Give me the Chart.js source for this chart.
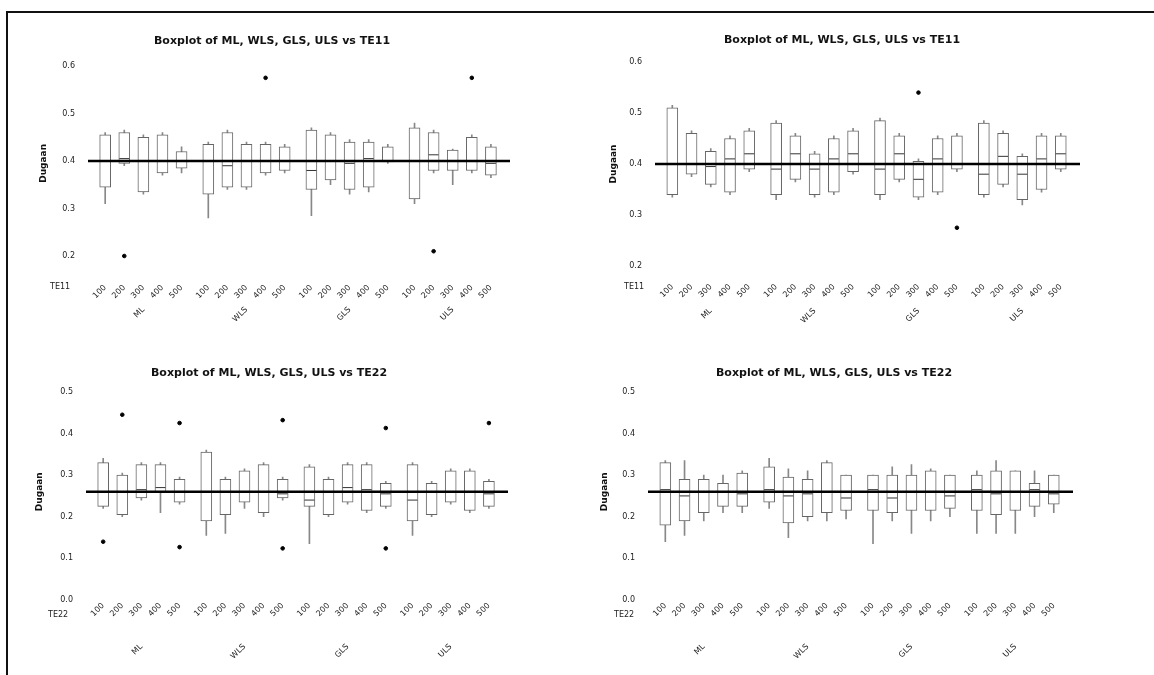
<!DOCTYPE html>
<html>
<head>
<meta charset="utf-8">
<script src="https://cdn.jsdelivr.net/npm/chart.js@4.4.0/dist/chart.umd.min.js"></script>
<style>
  html, body { margin: 0; padding: 0; background: #fff; }
  #page { position: relative; width: 1154px; height: 675px; overflow: hidden; font-family: 'DejaVu Sans', sans-serif; }
  .frame-top { position: absolute; left: 6px; top: 11px; width: 1148px; border-top: 2px solid #111; }
  .frame-left { position: absolute; left: 6px; top: 11px; height: 664px; border-left: 2px solid #111; }
  .panel { position: absolute; }
  .rowlab { position: absolute; font-size: 8px; color: #222; }
</style>
</head>
<body>
<div id="page">
  <div class="frame-top"></div>
  <div class="frame-left"></div>

  <div class="panel" style="left:10px;top:28px;width:560px;height:302px"><canvas id="c1"></canvas></div>
  <div class="panel" style="left:583px;top:28px;width:560px;height:302px"><canvas id="c2"></canvas></div>
  <div class="panel" style="left:10px;top:356px;width:560px;height:319px"><canvas id="c3"></canvas></div>
  <div class="panel" style="left:583px;top:356px;width:560px;height:319px"><canvas id="c4"></canvas></div>

  <div class="rowlab" style="left:50px;top:282px">TE11</div>
  <div class="rowlab" style="left:624px;top:282px">TE11</div>
  <div class="rowlab" style="left:48px;top:610px">TE22</div>
  <div class="rowlab" style="left:614px;top:610px">TE22</div>
</div>

<script>
// kategori: metode x ukuran sampel
const groups = ['ML', 'WLS', 'GLS', 'ULS'];
const sizes = ['100', '200', '300', '400', '500'];

// label sumbu Y
const yTicksTop = [0.2, 0.3, 0.4, 0.5, 0.6];
const yTicksBottom = [0.0, 0.1, 0.2, 0.3, 0.4, 0.5];

// nilai sebenarnya (garis referensi)
const refTop = 0.40;
const refBottom = 0.26;

// --- Panel 1 : TE11 (kiri atas) ---
const p1Low = [0.31, 0.39, 0.33, 0.37, 0.375, 0.28, 0.34, 0.34, 0.37, 0.375, 0.285, 0.35, 0.33, 0.335, 0.395, 0.31, 0.375, 0.35, 0.375, 0.365];
const p1Q1  = [0.345, 0.395, 0.335, 0.375, 0.385, 0.33, 0.345, 0.345, 0.375, 0.38, 0.34, 0.36, 0.34, 0.345, 0.398, 0.32, 0.38, 0.38, 0.38, 0.37];
const p1Med = [0.40, 0.405, 0.40, 0.40, 0.40, 0.40, 0.39, 0.40, 0.40, 0.40, 0.38, 0.40, 0.395, 0.405, 0.40, 0.40, 0.413, 0.40, 0.40, 0.395];
const p1Q3  = [0.455, 0.46, 0.45, 0.455, 0.42, 0.435, 0.46, 0.435, 0.435, 0.43, 0.465, 0.455, 0.44, 0.44, 0.43, 0.47, 0.46, 0.423, 0.45, 0.43];
const p1High = [0.46, 0.465, 0.455, 0.46, 0.43, 0.44, 0.465, 0.44, 0.44, 0.435, 0.47, 0.46, 0.445, 0.445, 0.435, 0.48, 0.465, 0.425, 0.455, 0.435];
const p1Outliers = [[1, 0.20], [8, 0.575], [16, 0.21], [18, 0.575]];

// --- Panel 2 : TE11 (kanan atas) ---
const p2Low = [0.335, 0.375, 0.355, 0.34, 0.385, 0.33, 0.365, 0.335, 0.34, 0.38, 0.33, 0.365, 0.33, 0.34, 0.385, 0.335, 0.355, 0.32, 0.345, 0.385];
const p2Q1  = [0.34, 0.38, 0.36, 0.345, 0.39, 0.34, 0.37, 0.34, 0.345, 0.385, 0.34, 0.37, 0.335, 0.345, 0.39, 0.34, 0.36, 0.33, 0.35, 0.39];
const p2Med = [0.40, 0.40, 0.395, 0.41, 0.42, 0.39, 0.42, 0.39, 0.41, 0.42, 0.39, 0.42, 0.37, 0.41, 0.40, 0.38, 0.415, 0.38, 0.41, 0.42];
const p2Q3  = [0.51, 0.46, 0.425, 0.45, 0.465, 0.48, 0.455, 0.42, 0.45, 0.465, 0.485, 0.455, 0.405, 0.45, 0.455, 0.48, 0.46, 0.415, 0.455, 0.455];
const p2High = [0.515, 0.465, 0.43, 0.455, 0.47, 0.485, 0.46, 0.425, 0.455, 0.47, 0.49, 0.46, 0.41, 0.455, 0.46, 0.485, 0.465, 0.42, 0.46, 0.46];
const p2Outliers = [[12, 0.54], [14, 0.275]];

// --- Panel 3 : TE22 (kiri bawah) ---
const p3Low = [0.22, 0.20, 0.24, 0.21, 0.23, 0.155, 0.16, 0.22, 0.20, 0.24, 0.135, 0.20, 0.23, 0.21, 0.22, 0.155, 0.20, 0.23, 0.21, 0.22];
const p3Q1  = [0.225, 0.205, 0.245, 0.26, 0.235, 0.19, 0.205, 0.235, 0.21, 0.245, 0.225, 0.205, 0.235, 0.215, 0.225, 0.19, 0.205, 0.235, 0.215, 0.225];
const p3Med = [0.26, 0.26, 0.265, 0.27, 0.26, 0.26, 0.26, 0.26, 0.26, 0.255, 0.24, 0.26, 0.27, 0.265, 0.255, 0.24, 0.26, 0.26, 0.26, 0.255];
const p3Q3  = [0.33, 0.30, 0.325, 0.325, 0.29, 0.355, 0.29, 0.31, 0.325, 0.29, 0.32, 0.29, 0.325, 0.325, 0.28, 0.325, 0.28, 0.31, 0.31, 0.285];
const p3High = [0.34, 0.305, 0.33, 0.33, 0.295, 0.36, 0.295, 0.315, 0.33, 0.295, 0.325, 0.295, 0.33, 0.33, 0.285, 0.33, 0.285, 0.315, 0.315, 0.29];
const p3Outliers = [[0, 0.14], [1, 0.445], [4, 0.425], [4, 0.127], [9, 0.432], [9, 0.124], [14, 0.413], [14, 0.124], [19, 0.425]];

// --- Panel 4 : TE22 (kanan bawah) ---
const p4Low = [0.14, 0.155, 0.19, 0.21, 0.21, 0.22, 0.15, 0.19, 0.19, 0.195, 0.135, 0.19, 0.16, 0.19, 0.20, 0.16, 0.16, 0.16, 0.20, 0.21];
const p4Q1  = [0.18, 0.19, 0.21, 0.225, 0.225, 0.235, 0.185, 0.20, 0.21, 0.215, 0.215, 0.21, 0.215, 0.215, 0.22, 0.215, 0.205, 0.215, 0.225, 0.23];
const p4Med = [0.265, 0.25, 0.26, 0.26, 0.255, 0.265, 0.25, 0.255, 0.26, 0.245, 0.265, 0.245, 0.26, 0.26, 0.25, 0.265, 0.255, 0.26, 0.265, 0.255];
const p4Q3  = [0.33, 0.29, 0.29, 0.28, 0.305, 0.32, 0.295, 0.29, 0.33, 0.30, 0.30, 0.30, 0.30, 0.31, 0.30, 0.30, 0.31, 0.31, 0.28, 0.30];
const p4High = [0.335, 0.335, 0.30, 0.30, 0.31, 0.34, 0.315, 0.31, 0.335, 0.30, 0.30, 0.32, 0.325, 0.315, 0.30, 0.31, 0.335, 0.31, 0.31, 0.30];
const p4Outliers = [];

// posisi kotak pada sumbu X (5 kotak per metode, ada celah antar metode)
const groupStep = 5.4;
const xMin = -0.9;
const xMax = 21.2;
const boxPos = [];
groups.forEach((g, gi) => sizes.forEach((s, si) => boxPos.push(gi * groupStep + si)));
const groupPos = groups.map((g, gi) => gi * groupStep + 2);
const sizeLabels = groups.flatMap(() => sizes);

const tickFont = { family: 'DejaVu Sans', size: 8 };

function drawPanel(id, p) {
    const ctx = document.getElementById(id).getContext('2d');

    const whiskers = boxPos.map((x, i) => ({ x, y: [p.lo[i], p.hi[i]] }));
    const boxes = boxPos.map((x, i) => ({ x, y: [p.q1[i], p.q3[i]] }));
    const medians = boxPos.map((x, i) => ({ x, y: p.med[i] }));
    const outliers = p.out.map(([i, v]) => ({ x: boxPos[i], y: v }));
    const refLine = [{ x: xMin, y: p.ref }, { x: xMax, y: p.ref }];

    new Chart(ctx, {
        type: 'bar',
        data: {
            datasets: [
                { type: 'line', data: refLine, borderColor: '#000', borderWidth: 2.5, pointRadius: 0, order: 0 },
                { type: 'scatter', data: outliers, pointRadius: 1.8, backgroundColor: '#000', borderColor: '#000', order: 1 },
                { type: 'scatter', data: medians, pointStyle: 'line', pointRadius: 5, borderColor: '#333', borderWidth: 1, order: 2 },
                { type: 'bar', data: boxes, backgroundColor: '#fff', borderColor: '#666', borderWidth: 1,
                  borderSkipped: false, barThickness: 11, grouped: false, order: 3 },
                { type: 'bar', data: whiskers, backgroundColor: '#888', barThickness: 1, grouped: false, order: 4 }
            ]
        },
        options: {
            responsive: true,
            maintainAspectRatio: false,
            animation: false,
            layout: { padding: { left: p.padL, right: p.padR, top: 0, bottom: 0 } },
            plugins: {
                legend: { display: false },
                tooltip: { enabled: false },
                title: {
                    display: true,
                    text: p.title,
                    color: '#111',
                    font: { family: 'DejaVu Sans', size: 11, weight: 'bold' },
                    padding: { top: p.tTop, bottom: p.tBot }
                }
            },
            scales: {
                x: {
                    type: 'linear', position: 'bottom', weight: 0,
                    min: xMin, max: xMax, offset: false,
                    grid: { display: false, drawTicks: false },
                    border: { display: false },
                    afterBuildTicks: s => { s.ticks = boxPos.map(v => ({ value: v })); },
                    afterFit: s => { s.height = p.xH; },
                    ticks: {
                        autoSkip: false, minRotation: 45, maxRotation: 45,
                        padding: p.xPad, font: tickFont, color: '#222',
                        callback: (v, i) => sizeLabels[i]
                    }
                },
                xg: {
                    type: 'linear', position: 'bottom', weight: 1,
                    min: xMin, max: xMax, offset: false,
                    grid: { display: false, drawTicks: false },
                    border: { display: false },
                    afterBuildTicks: s => { s.ticks = groupPos.map(v => ({ value: v })); },
                    afterFit: s => { s.height = p.gH; },
                    ticks: {
                        autoSkip: false, minRotation: 45, maxRotation: 45,
                        padding: 4, font: tickFont, color: '#222',
                        callback: (v, i) => groups[i]
                    }
                },
                y: {
                    min: p.yMin, max: p.yMax,
                    grid: { display: false, drawTicks: false },
                    border: { display: false },
                    afterBuildTicks: s => { s.ticks = p.yTicks.map(v => ({ value: v })); },
                    afterFit: s => { s.width = p.yW; },
                    ticks: { padding: 13, font: tickFont, color: '#222', callback: v => v.toFixed(1) },
                    title: {
                        display: true, text: 'Dugaan', color: '#111',
                        font: { family: 'DejaVu Sans', size: 9, weight: 'bold' },
                        padding: { top: 4, bottom: 0 }
                    }
                }
            }
        }
    });
}

drawPanel('c1', {
    title: 'Boxplot of ML, WLS, GLS, ULS vs TE11',
    lo: p1Low, q1: p1Q1, med: p1Med, q3: p1Q3, hi: p1High, out: p1Outliers,
    ref: refTop, yTicks: yTicksTop, yMin: 0.16, yMax: 0.63,
    padL: 24, yW: 54, padR: 60, tTop: 7, tBot: 3.5, xH: 26, gH: 29, xPad: 8
});

drawPanel('c2', {
    title: 'Boxplot of ML, WLS, GLS, ULS vs TE11',
    lo: p2Low, q1: p2Q1, med: p2Med, q3: p2Q3, hi: p2High, out: p2Outliers,
    ref: refTop, yTicks: yTicksTop, yMin: 0.18, yMax: 0.62,
    padL: 21, yW: 51, padR: 63, tTop: 5.4, tBot: 5.2, xH: 26, gH: 27.8, xPad: 6
});

drawPanel('c3', {
    title: 'Boxplot of ML, WLS, GLS, ULS vs TE22',
    lo: p3Low, q1: p3Q1, med: p3Med, q3: p3Q3, hi: p3High, out: p3Outliers,
    ref: refBottom, yTicks: yTicksBottom, yMin: 0.0, yMax: 0.52,
    padL: 20, yW: 56, padR: 62, tTop: 10.4, tBot: 3.9, xH: 38, gH: 37, xPad: 1
});

drawPanel('c4', {
    title: 'Boxplot of ML, WLS, GLS, ULS vs TE22',
    lo: p4Low, q1: p4Q1, med: p4Med, q3: p4Q3, hi: p4High, out: p4Outliers,
    ref: refBottom, yTicks: yTicksBottom, yMin: 0.0, yMax: 0.52,
    padL: 12, yW: 53, padR: 70, tTop: 10.4, tBot: 3.9, xH: 38, gH: 37, xPad: 1
});
</script>
</body>
</html>
